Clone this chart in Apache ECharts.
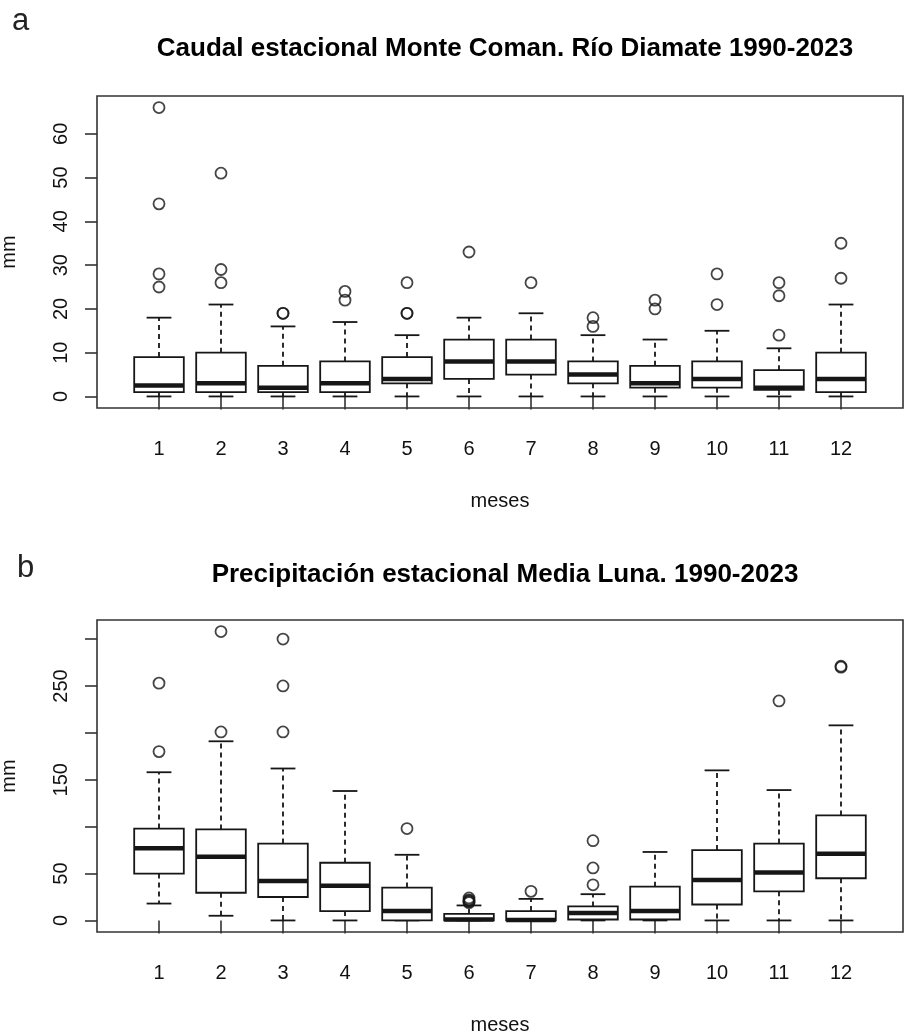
<!DOCTYPE html>
<html>
<head>
<meta charset="utf-8">
<script src="https://cdn.jsdelivr.net/npm/echarts@6/dist/echarts.min.js"></script>
<style>html,body{margin:0;padding:0;background:#fff}#c{width:904px;height:1036px}</style>
</head>
<body>
<div id="c"></div>
<script>
// ---- Data ----
const months = ['1','2','3','4','5','6','7','8','9','10','11','12'];

// Panel a: Caudal (five-number summaries per month: [low whisker, Q1, median, Q3, high whisker])
const caudalStats = [
  [0, 1, 2.5, 9, 18],
  [0, 1, 3, 10, 21],
  [0, 1, 2, 7, 16],
  [0, 1, 3, 8, 17],
  [0, 3, 4, 9, 14],
  [0, 4, 8, 13, 18],
  [0, 5, 8, 13, 19],
  [0, 3, 5, 8, 14],
  [0, 2, 3, 7, 13],
  [0, 2, 4, 8, 15],
  [0, 1.5, 2, 6, 11],
  [0, 1, 4, 10, 21]
];
const caudalOutliers = [
  [25, 28, 44, 66],
  [26, 29, 51],
  [19, 19],
  [22, 24],
  [19, 19, 26],
  [33],
  [26],
  [16, 18],
  [20, 22],
  [21, 28],
  [14, 23, 26],
  [27, 35]
];
const caudalTicks = [0, 10, 20, 30, 40, 50, 60];
const caudalLabels = [0, 10, 20, 30, 40, 50, 60];

// Panel b: Precipitación
const precipStats = [
  [18, 50, 77, 98, 158],
  [5, 29.5, 68, 97, 191],
  [0, 25, 42, 82, 162],
  [0, 10, 37, 61.5, 138],
  [0, 0, 10, 35, 70],
  [0, 0, 1, 7, 16],
  [0, 0, 0.5, 10, 23],
  [0, 1, 8, 15, 28],
  [0, 1, 10, 36, 73],
  [0, 17, 43, 75, 160],
  [0, 31, 51, 82, 139],
  [0, 45, 71, 112, 208]
];
const precipOutliers = [
  [180, 253],
  [201, 308],
  [201, 250, 300],
  [],
  [98],
  [19, 20, 21, 22, 24],
  [31],
  [38, 56, 85],
  [],
  [],
  [234],
  [270, 271]
];
const precipTicks = [0, 50, 100, 150, 200, 250, 300];
const precipLabels = [0, 50, 150, 250];

const titleA = 'Caudal estacional Monte Coman. Río Diamate 1990-2023';
const titleB = 'Precipitación estacional Media Luna. 1990-2023';
const xName = 'meses';
const yName = 'mm';

// ---- Build ----
const FONT = '"Liberation Sans", Arial, Helvetica, sans-serif';
const INK = '#161616';
const cats = [''].concat(months).concat(['']);

function boxData(stats) {
  return stats.map((s, i) => [i + 1].concat(s));
}
function outlierData(outs) {
  const d = [];
  outs.forEach((arr, i) => arr.forEach(v => d.push([i + 1, v])));
  return d;
}
function rangeOf(stats, outs) {
  let lo = Infinity, hi = -Infinity;
  stats.forEach(s => s.forEach(v => { lo = Math.min(lo, v); hi = Math.max(hi, v); }));
  outs.forEach(a => a.forEach(v => { lo = Math.min(lo, v); hi = Math.max(hi, v); }));
  const ext = (hi - lo) * 0.04;
  return [lo - ext, hi + ext];
}

function renderBox(params, api) {
  const x = api.value(0);
  const lo = api.coord([x, api.value(1)]);
  const q1 = api.coord([x, api.value(2)]);
  const md = api.coord([x, api.value(3)]);
  const q3 = api.coord([x, api.value(4)]);
  const hi = api.coord([x, api.value(5)]);
  const band = api.size([1, 0])[0];
  const bw = band * 0.8;
  const cw = bw / 2;
  const cx = md[0];
  const thin = { stroke: INK, lineWidth: 1.8 };
  const dash = { stroke: INK, lineWidth: 1.8, lineDash: [5, 4] };
  return {
    type: 'group',
    children: [
      { type: 'line', shape: { x1: cx, y1: q3[1], x2: cx, y2: hi[1] }, style: dash },
      { type: 'line', shape: { x1: cx, y1: q1[1], x2: cx, y2: lo[1] }, style: dash },
      { type: 'line', shape: { x1: cx - cw / 2, y1: hi[1], x2: cx + cw / 2, y2: hi[1] }, style: thin },
      { type: 'line', shape: { x1: cx - cw / 2, y1: lo[1], x2: cx + cw / 2, y2: lo[1] }, style: thin },
      { type: 'rect', shape: { x: cx - bw / 2, y: q3[1], width: bw, height: q1[1] - q3[1] }, style: { fill: '#fff', stroke: INK, lineWidth: 1.8 } },
      { type: 'line', shape: { x1: cx - bw / 2, y1: md[1], x2: cx + bw / 2, y2: md[1] }, style: { stroke: INK, lineWidth: 4.5 } }
    ]
  };
}

const rA = rangeOf(caudalStats, caudalOutliers);
const rB = rangeOf(precipStats, precipOutliers);

function xAxisFor(gi) {
  return {
    type: 'category', gridIndex: gi, data: cats, boundaryGap: false,
    axisLine: { show: false },
    axisTick: { show: true, length: 13, inside: false, interval: (i, v) => v !== '', lineStyle: { color: '#333', width: 1.6 } },
    axisLabel: { interval: 0, margin: 31, fontFamily: FONT, fontSize: 20, color: '#111' },
    splitLine: { show: false },
    name: xName, nameLocation: 'middle', nameGap: 83,
    nameTextStyle: { fontFamily: FONT, fontSize: 20, color: '#111' }
  };
}
function yAxisFor(gi, r, ticks, labels) {
  return {
    type: 'value', gridIndex: gi, min: r[0], max: r[1],
    axisLine: { show: false },
    axisTick: { show: true, length: 12, customValues: ticks, lineStyle: { color: '#333', width: 1.6 } },
    axisLabel: { customValues: labels, rotate: 90, margin: 26, fontFamily: FONT, fontSize: 20, color: '#111' },
    splitLine: { show: false },
    name: yName, nameLocation: 'middle', nameGap: 78, nameRotate: 90,
    nameTextStyle: { fontFamily: FONT, fontSize: 20, color: '#111' }
  };
}

const outlierStyle = { color: 'rgba(0,0,0,0)', borderColor: INK, borderWidth: 1.8 };

const option = {
  backgroundColor: '#fff',
  animation: false,
  title: [
    { text: 'a', left: 7, top: 1, textStyle: { fontFamily: FONT, fontSize: 31, fontWeight: 'normal', color: '#222', lineHeight: 31 } },
    { text: titleA, left: 500, textAlign: 'center', top: 31, textStyle: { fontFamily: FONT, fontSize: 26, fontWeight: 'bold', color: '#000', lineHeight: 26 } },
    { text: 'b', left: 12, top: 548, textStyle: { fontFamily: FONT, fontSize: 31, fontWeight: 'normal', color: '#222', lineHeight: 31 } },
    { text: titleB, left: 500, textAlign: 'center', top: 557, textStyle: { fontFamily: FONT, fontSize: 26, fontWeight: 'bold', color: '#000', lineHeight: 26 } }
  ],
  grid: [
    { left: 97, top: 96, width: 806, height: 312, containLabel: false, outerBoundsMode: 'none', show: true, borderColor: '#333', borderWidth: 1.6, backgroundColor: 'transparent' },
    { left: 97, top: 620, width: 806, height: 312, containLabel: false, outerBoundsMode: 'none', show: true, borderColor: '#333', borderWidth: 1.6, backgroundColor: 'transparent' }
  ],
  xAxis: [xAxisFor(0), xAxisFor(1)],
  yAxis: [yAxisFor(0, rA, caudalTicks, caudalLabels), yAxisFor(1, rB, precipTicks, precipLabels)],
  series: [
    { type: 'custom', xAxisIndex: 0, yAxisIndex: 0, data: boxData(caudalStats), renderItem: renderBox, encode: { x: 0, y: [1, 2, 3, 4, 5] }, silent: true },
    { type: 'scatter', xAxisIndex: 0, yAxisIndex: 0, data: outlierData(caudalOutliers), symbol: 'circle', symbolSize: 11, itemStyle: outlierStyle, silent: true },
    { type: 'custom', xAxisIndex: 1, yAxisIndex: 1, data: boxData(precipStats), renderItem: renderBox, encode: { x: 0, y: [1, 2, 3, 4, 5] }, silent: true },
    { type: 'scatter', xAxisIndex: 1, yAxisIndex: 1, data: outlierData(precipOutliers), symbol: 'circle', symbolSize: 11, itemStyle: outlierStyle, silent: true }
  ]
};

const chart = echarts.init(document.getElementById('c'), null, { renderer: 'canvas' });
chart.setOption(option);
</script>
</body>
</html>
